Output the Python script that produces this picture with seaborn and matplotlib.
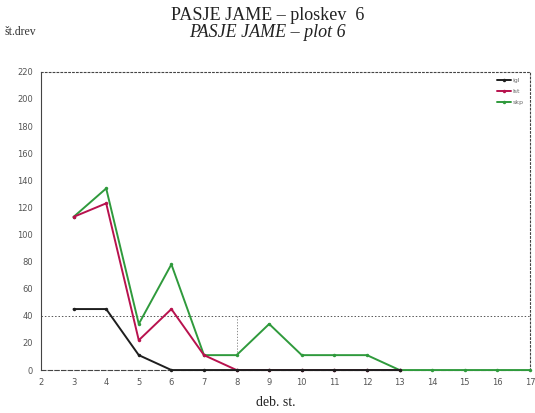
import numpy as np
import pandas as pd
import seaborn as sns
import matplotlib
matplotlib.use("Agg")
import matplotlib.pyplot as plt

# diameter classes and tree counts per class
deb_st = [3, 4, 5, 6, 7, 8, 9, 10, 11, 12, 13, 14, 15, 16, 17]
igl = [45, 45, 11, 0, 0, 0, 0, 0, 0, 0, 0, None, None, None, None]
lst = [113, 123, 22, 45, 11, 0, 0, 0, 0, 0, 0, None, None, None, None]
skp = [113, 134, 34, 78, 11, 11, 34, 11, 11, 11, 0, 0, 0, 0, 0]
series_names = ["igl", "lst", "skp"]
series_colors = ["#1e1e1e", "#b8124e", "#2f9a3c"]

x_ticks = list(range(2, 18))
y_ticks = list(range(0, 221, 20))

df = pd.DataFrame({
    "deb": deb_st * 3,
    "n": igl + lst + skp,
    "vrsta": [series_names[0]] * len(deb_st) + [series_names[1]] * len(deb_st)
             + [series_names[2]] * len(deb_st),
}).dropna()

sns.set_theme(style="white")
plt.rcParams["font.family"] = ["DejaVu Sans"]

fig = plt.figure(figsize=(5.35, 4.13), dpi=100)
ax = fig.add_axes([0.0766, 0.104, 0.914, 0.722])

sns.lineplot(data=df, x="deb", y="n", hue="vrsta", hue_order=series_names,
             palette=series_colors, marker="o", markersize=2.5,
             markeredgewidth=0, linewidth=1.4, ax=ax, legend=True)

# black line on top along the baseline, green underneath; keep full width at y=0
for line, z in zip(ax.get_lines()[:3], [6, 5, 4]):
    line.set_zorder(z)
    line.set_clip_on(False)

ax.set_xlim(2, 17)
ax.set_ylim(0, 220)
ax.set_xticks(x_ticks)
ax.set_yticks(y_ticks)
ax.tick_params(axis="both", labelsize=6, colors="#555555", length=2, width=0.6,
               pad=4)
ax.set_xlabel("")
ax.set_ylabel("")

# scanned-style frame: dotted borders, dashed baseline
for side, ls in [("top", (0, (1.5, 2))), ("right", (0, (1.5, 2))),
                 ("left", (0, (3, 1))), ("bottom", (0, (4, 2)))]:
    ax.spines[side].set_linestyle(ls)
    ax.spines[side].set_color("#444444")
    ax.spines[side].set_linewidth(0.8)

ax.axhline(40, color="#555555", linestyle=(0, (1.5, 2)), linewidth=0.7, zorder=0)
ax.plot([8, 8], [11, 40], color="#777777", linestyle=(0, (1.5, 2)),
        linewidth=0.6, zorder=0)

leg = ax.legend(loc="upper right", fontsize=4.5, frameon=False,
                handlelength=2.2, handletextpad=0.3, labelspacing=0.9,
                borderaxespad=0.6)
for t in leg.get_texts():
    t.set_color("#666666")

serif = ["Liberation Serif", "DejaVu Serif"]
fig.text(0.5, 0.962, "PASJE JAME – ploskev  6", ha="center", va="center",
         fontsize=13, family=serif, color="#222222")
fig.text(0.5, 0.922, "PASJE JAME – plot 6", ha="center", va="center",
         fontsize=13, family=serif, style="italic", color="#222222")
fig.text(0.009, 0.922, "št.drev", ha="left", va="center", fontsize=8.5,
         family=serif, color="#333333")
fig.text(0.515, 0.025, "deb. st.", ha="center", va="center", fontsize=10,
         family=serif, color="#222222")

fig.savefig("out.png", dpi=100, facecolor="white")
